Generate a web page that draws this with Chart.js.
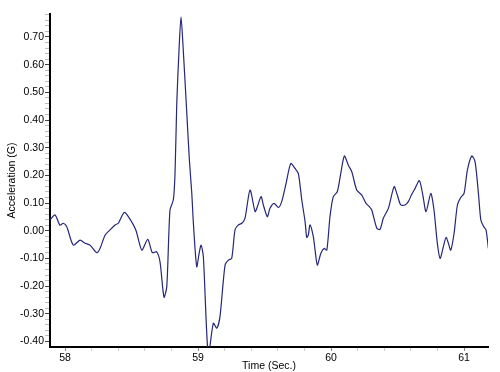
<!DOCTYPE html>
<html lang="en">
<head>
    <meta charset="UTF-8">
    <title>Acceleration vs Time</title>
    <script src="https://cdn.jsdelivr.net/npm/chart.js@4.4.1/dist/chart.umd.min.js"></script>
    <style>
        html, body { margin: 0; padding: 0; background: #fff; }
        #wrap { width: 500px; height: 372px; }
    </style>
</head>
<body>
    <div id="wrap"><canvas id="accelChart" width="500" height="372"></canvas></div>

    <script>
        const timeSec = [
            57.887, 57.925, 57.962, 57.987, 58.013, 58.062, 58.113, 58.150, 58.188, 58.238,
            58.263, 58.301, 58.338, 58.376, 58.401, 58.444, 58.476, 58.532, 58.577, 58.622,
            58.656, 58.689, 58.714, 58.744, 58.765, 58.789, 58.814, 58.827, 58.840, 58.857,
            58.872, 58.889, 58.910, 58.935, 58.953, 58.965, 58.990, 59.008, 59.023, 59.040,
            59.077, 59.115, 59.141, 59.165, 59.203, 59.228, 59.253, 59.278, 59.303, 59.329,
            59.353, 59.391, 59.429, 59.446, 59.474, 59.491, 59.521, 59.541, 59.571, 59.604,
            59.629, 59.662, 59.697, 59.729, 59.754, 59.780, 59.805, 59.817, 59.829, 59.842,
            59.867, 59.880, 59.897, 59.923, 59.947, 59.968, 59.992, 60.017, 60.047, 60.073,
            60.100, 60.130, 60.156, 60.193, 60.231, 60.263, 60.288, 60.306, 60.344, 60.368,
            60.393, 60.431, 60.474, 60.498, 60.524, 60.556, 60.581, 60.607, 60.632, 60.664,
            60.690, 60.714, 60.750, 60.774, 60.799, 60.820, 60.844, 60.865, 60.882, 60.900,
            60.925, 60.950, 60.975, 61.000, 61.025, 61.058, 61.083, 61.108, 61.126, 61.145,
            61.165, 61.183
        ];
        const accelG = [
            0.039, 0.057, 0.020, 0.027, 0.014, -0.052, -0.034, -0.045, -0.052, -0.079,
            -0.064, -0.016, 0.003, 0.021, 0.027, 0.066, 0.051, 0.003, -0.070, -0.031,
            -0.079, -0.076, -0.112, -0.240, -0.202, 0.075, 0.111, 0.207, 0.460, 0.652,
            0.773, 0.652, 0.472, 0.255, 0.135, 0.027, -0.130, -0.082, -0.052, -0.094,
            -0.450, -0.334, -0.352, -0.310, -0.124, -0.106, -0.100, 0.003, 0.021, 0.027,
            0.045, 0.147, 0.069, 0.087, 0.123, 0.093, 0.051, 0.081, 0.099, 0.084,
            0.105, 0.171, 0.243, 0.225, 0.207, 0.111, 0.032, -0.024, -0.016, 0.021,
            -0.022, -0.070, -0.124, -0.082, -0.064, -0.070, 0.051, 0.123, 0.141, 0.207,
            0.270, 0.237, 0.213, 0.147, 0.129, 0.099, 0.087, 0.075, 0.009, 0.005,
            0.045, 0.081, 0.159, 0.129, 0.093, 0.093, 0.105, 0.132, 0.153, 0.181,
            0.129, 0.069, 0.135, 0.075, -0.045, -0.100, -0.058, -0.024, -0.045, -0.070,
            -0.009, 0.093, 0.120, 0.135, 0.219, 0.270, 0.249, 0.135, 0.039, 0.017,
            0.003, -0.064
        ];

        // Axis ranges and ticks
        const xRange = [57.887, 61.18];
        const yRange = [-0.42, 0.783];
        const xTicks = [58, 58.2, 58.4, 58.6, 58.8, 59, 59.2, 59.4, 59.6, 59.8,
                        60, 60.2, 60.4, 60.6, 60.8, 61];
        const yTicks = [];
        for (let i = -20; i <= 39; i++) yTicks.push(i / 50);

        const isWhole = (v, step) => Math.abs(v / step - Math.round(v / step)) < 1e-6;
        const font = { family: 'Arial, "Liberation Sans", sans-serif', size: 10.5 };

        new Chart(document.getElementById('accelChart'), {
            type: 'line',
            data: {
                datasets: [{
                    data: timeSec.map((t, i) => ({ x: t, y: accelG[i] })),
                    borderColor: '#26267a',
                    borderWidth: 1.2,
                    pointRadius: 0,
                    tension: 0.25,
                    fill: false
                }]
            },
            options: {
                responsive: false,
                animation: false,
                layout: { padding: { left: 6, top: 14, right: 12, bottom: 0 } },
                plugins: { legend: { display: false }, tooltip: { enabled: false } },
                scales: {
                    x: {
                        type: 'linear',
                        min: xRange[0],
                        max: xRange[1],
                        afterBuildTicks: s => { s.ticks = xTicks.map(v => ({ value: v })); },
                        afterFit: s => { s.height = 25; },
                        border: { color: '#000', width: 2 },
                        grid: {
                            drawOnChartArea: false,
                            tickLength: 4,
                            tickColor: c => isWhole(c.tick.value, 1) ? '#888' : '#ccc'
                        },
                        ticks: {
                            color: '#000',
                            font: font,
                            padding: 1,
                            maxRotation: 0,
                            autoSkip: false,
                            callback: v => isWhole(v, 1) ? String(Math.round(v)) : ''
                        },
                        title: {
                            display: true,
                            text: 'Time (Sec.)',
                            color: '#000',
                            font: font,
                            padding: { top: -4, bottom: 0 }
                        }
                    },
                    y: {
                        min: yRange[0],
                        max: yRange[1],
                        afterBuildTicks: s => { s.ticks = yTicks.map(v => ({ value: v })); },
                        afterFit: s => { s.width = 44; },
                        border: { color: '#000', width: 2 },
                        grid: {
                            drawOnChartArea: false,
                            tickLength: 5,
                            tickColor: c => isWhole(c.tick.value, 0.1) ? '#444' : '#bbb'
                        },
                        ticks: {
                            color: '#000',
                            font: font,
                            padding: 1,
                            autoSkip: false,
                            callback: v => isWhole(v, 0.1) ? v.toFixed(2) : ''
                        },
                        title: {
                            display: true,
                            text: 'Acceleration (G)',
                            color: '#000',
                            font: font,
                            padding: { top: 0, bottom: 0 }
                        }
                    }
                }
            }
        });
    </script>
</body>
</html>
